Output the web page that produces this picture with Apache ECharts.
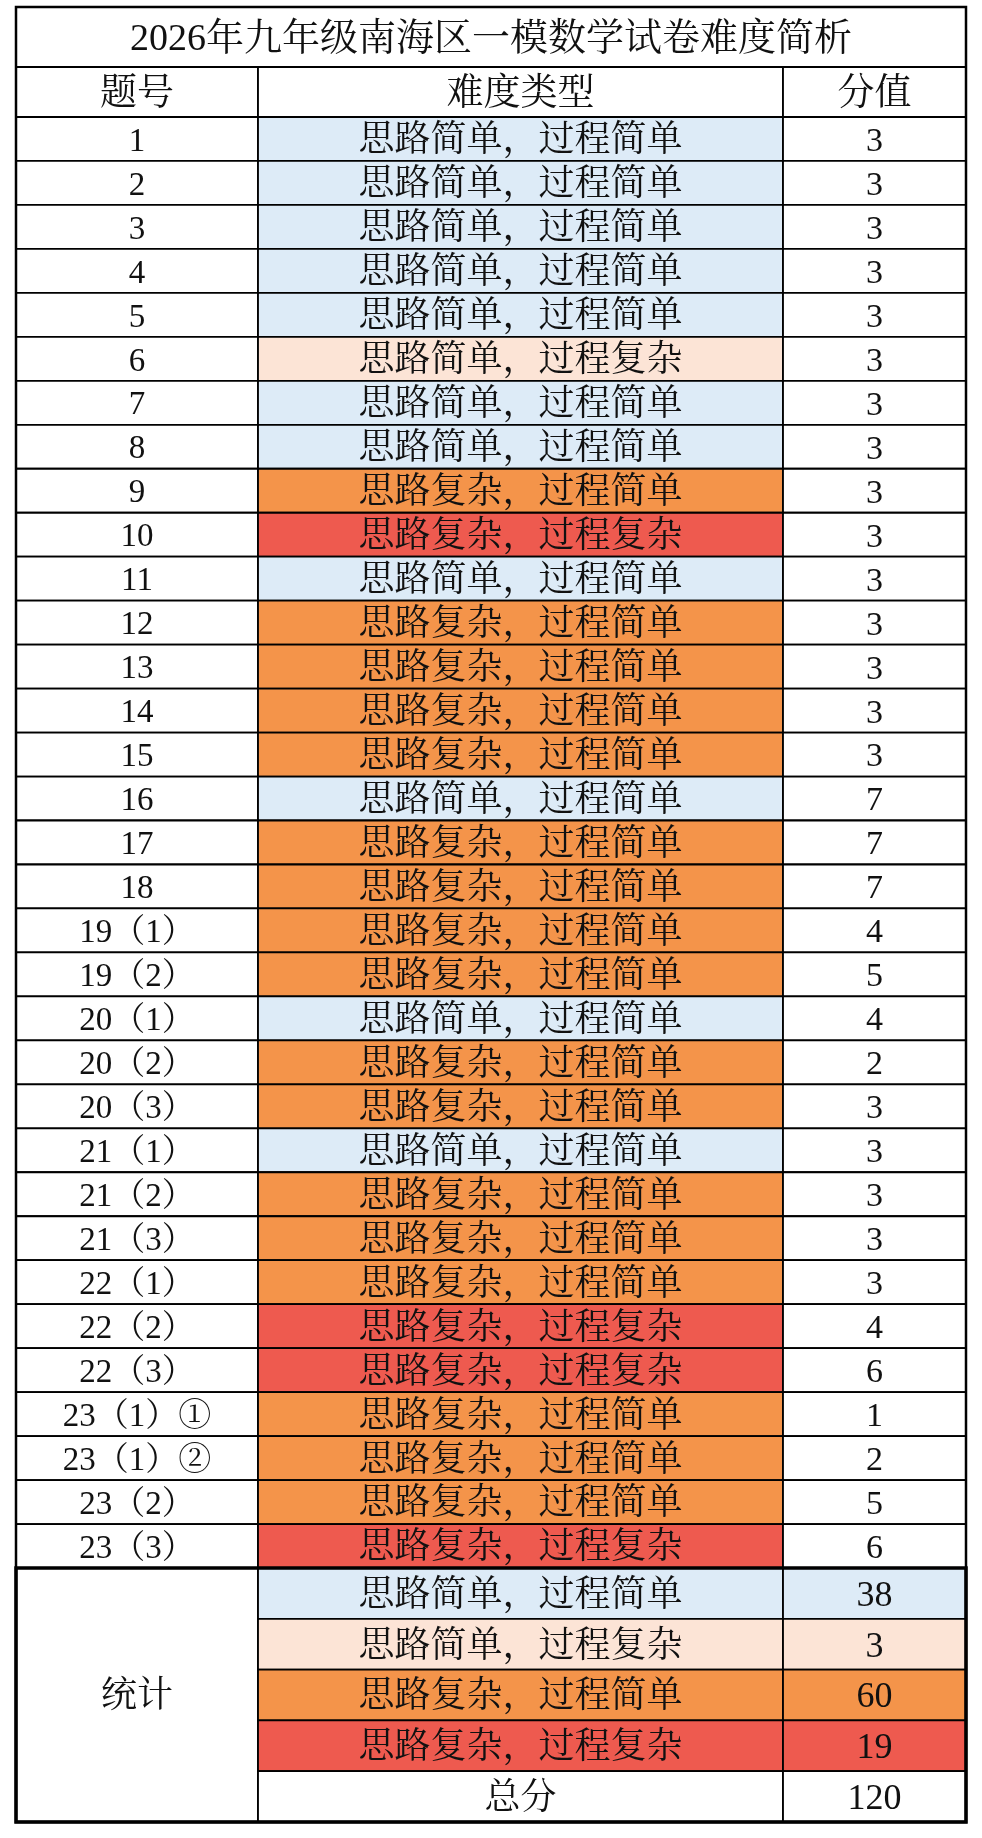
<!DOCTYPE html>
<html><head><meta charset="utf-8">
<script src="https://cdn.jsdelivr.net/npm/echarts@6/dist/echarts.min.js"></script>
<style>html,body{margin:0;padding:0;background:#fff}#c{width:982px;height:1838px}</style>
</head><body><div id="c"></div>
<script>
const title = '2026年九年级南海区一模数学试卷难度简析';
const headers = ['题号', '难度类型', '分值'];
const questions = ['1','2','3','4','5','6','7','8','9','10','11','12','13','14','15','16','17','18',
  '19（1）','19（2）','20（1）','20（2）','20（3）','21（1）','21（2）','21（3）','22（1）','22（2）','22（3）',
  '23（1）①','23（1）②','23（2）','23（3）'];
const typeNames = ['思路简单，过程简单','思路简单，过程复杂','思路复杂，过程简单','思路复杂，过程复杂'];
const questionTypes = [0,0,0,0,0,1,0,0,2,3,0,2,2,2,2,0,2,2,2,2,0,2,2,0,2,2,2,3,3,2,2,2,3];
const scores = [3,3,3,3,3,3,3,3,3,3,3,3,3,3,3,7,7,7,4,5,4,2,3,3,3,3,3,4,6,1,2,5,6];
const statLabel = '统计';
const statTotals = [38,3,60,19];
const totalLabel = '总分';
const totalScore = 120;

const typeColors = ['#DDEBF7','#FCE4D6','#F4944A','#EE5A4F'];
const colEdges = [0, 242, 767, 950];
const H_TITLE = 60, H_HEAD = 50, H_ROW = 43.97, H_STAT = 50.8;

const cells = [];
let y = 0;
cells.push({c0:0,c1:3,y0:y,y1:y+H_TITLE,text:title,fill:'#fff',size:38}); y += H_TITLE;
headers.forEach((h,i)=>cells.push({c0:i,c1:i+1,y0:y,y1:y+H_HEAD,text:h,fill:'#fff',size:37})); y += H_HEAD;
questions.forEach((q,i)=>{
  cells.push({c0:0,c1:1,y0:y,y1:y+H_ROW,text:q,fill:'#fff',size:33});
  cells.push({c0:1,c1:2,y0:y,y1:y+H_ROW,text:typeNames[questionTypes[i]],fill:typeColors[questionTypes[i]],size:36});
  cells.push({c0:2,c1:3,y0:y,y1:y+H_ROW,text:String(scores[i]),fill:'#fff',size:34});
  y += H_ROW;
});
const statTop = y;
cells.push({c0:0,c1:1,y0:y,y1:y+5*H_STAT,text:statLabel,fill:'#fff',size:36});
statTotals.forEach((v,i)=>{
  cells.push({c0:1,c1:2,y0:y,y1:y+H_STAT,text:typeNames[i],fill:typeColors[i],size:36});
  cells.push({c0:2,c1:3,y0:y,y1:y+H_STAT,text:String(v),fill:typeColors[i],size:36});
  y += H_STAT;
});
cells.push({c0:1,c1:2,y0:y,y1:y+H_STAT,text:totalLabel,fill:'#fff',size:36});
cells.push({c0:2,c1:3,y0:y,y1:y+H_STAT,text:String(totalScore),fill:'#fff',size:36});
y += H_STAT;
const totalH = y;

const chart = echarts.init(document.getElementById('c'), null, {renderer:'canvas'});
chart.setOption({
  animation:false,
  grid:{left:16,right:16,top:7,bottom:16},
  xAxis:{type:'value',min:0,max:950,show:false},
  yAxis:{type:'value',min:0,max:totalH,inverse:true,show:false},
  series:[{
    type:'custom',
    data:cells.map((c,i)=>[i]),
    renderItem:(params,api)=>{
      const c = cells[api.value(0)];
      const p0 = api.coord([colEdges[c.c0], c.y0]);
      const p1 = api.coord([colEdges[c.c1], c.y1]);
      return {type:'group',children:[
        {type:'rect',shape:{x:p0[0],y:p0[1],width:p1[0]-p0[0],height:p1[1]-p0[1]},
         style:{fill:c.fill,stroke:'#000',lineWidth:1.8}},
        {type:'text',style:{text:c.text,x:(p0[0]+p1[0])/2,y:(p0[1]+p1[1])/2+3,align:'center',verticalAlign:'middle',
          font:`${c.size}px "Liberation Serif","Noto Serif CJK SC","Noto Sans CJK SC"`,fill:'#111'}}
      ]};
    }
  },{
    type:'custom',
    data:[[0]],
    renderItem:(params,api)=>{
      const a = api.coord([0,0]), b = api.coord([950,totalH]), s = api.coord([0,statTop]);
      return {type:'group',children:[
        {type:'rect',shape:{x:a[0],y:a[1],width:b[0]-a[0],height:b[1]-a[1]},style:{fill:'none',stroke:'#000',lineWidth:2.5}},
        {type:'rect',shape:{x:s[0],y:s[1],width:b[0]-s[0],height:b[1]-s[1]},style:{fill:'none',stroke:'#000',lineWidth:3.5}}
      ]};
    }
  }]
});
</script></body></html>
